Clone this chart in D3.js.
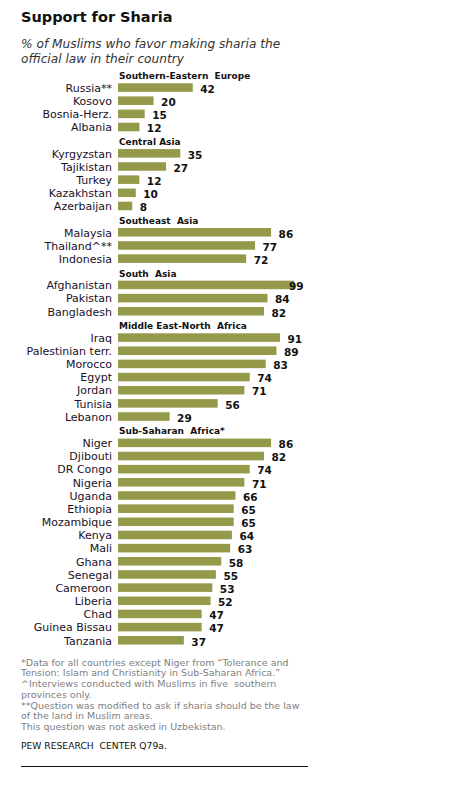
<!DOCTYPE html>
<html>
<head>
<meta charset="utf-8">
<script src="https://cdn.jsdelivr.net/npm/d3@7"></script>
<style>
  body { margin: 0; background: #fff; }
  svg text { font-family: "DejaVu Sans", Verdana, sans-serif; }
</style>
</head>
<body>
<svg id="chart" width="469" height="785"></svg>
<script>
// regions and their countries, top to bottom
var regions = ["Southern-Eastern  Europe", "Central Asia", "Southeast  Asia", "South  Asia",
               "Middle East-North  Africa", "Sub-Saharan  Africa*"];
var europe = ["Russia**", "Kosovo", "Bosnia-Herz.", "Albania"];
var europeVals = [42, 20, 15, 12];
var centralAsia = ["Kyrgyzstan", "Tajikistan", "Turkey", "Kazakhstan", "Azerbaijan"];
var centralAsiaVals = [35, 27, 12, 10, 8];
var southeastAsia = ["Malaysia", "Thailand^**", "Indonesia"];
var southeastAsiaVals = [86, 77, 72];
var southAsia = ["Afghanistan", "Pakistan", "Bangladesh"];
var southAsiaVals = [99, 84, 82];
var mena = ["Iraq", "Palestinian terr.", "Morocco", "Egypt", "Jordan", "Tunisia", "Lebanon"];
var menaVals = [91, 89, 83, 74, 71, 56, 29];
var africa = ["Niger", "Djibouti", "DR Congo", "Nigeria", "Uganda", "Ethiopia", "Mozambique",
              "Kenya", "Mali", "Ghana", "Senegal", "Cameroon", "Liberia", "Chad",
              "Guinea Bissau", "Tanzania"];
var africaVals = [86, 82, 74, 71, 66, 65, 65, 64, 63, 58, 55, 53, 52, 47, 47, 37];

var notes = [
  "*Data for all countries except Niger from \u201cTolerance and",
  "Tension: Islam and Christianity in Sub-Saharan Africa.\u201d",
  "^Interviews conducted with Muslims in five  southern",
  "provinces only.",
  "**Question was modified to ask if sharia should be the law",
  "of the land in Muslim areas.",
  "This question was not asked in Uzbekistan."
];

var BAR_COLOR = "#959a4a";
var LEFT = 118;

var groups = [
  [europe, europeVals], [centralAsia, centralAsiaVals], [southeastAsia, southeastAsiaVals],
  [southAsia, southAsiaVals], [mena, menaVals], [africa, africaVals]
];

// one slot per header and per country
var slots = [];
groups.forEach(function(g, i) {
  slots.push({ id: "h" + i, header: regions[i] });
  g[0].forEach(function(c, j) {
    slots.push({ id: "c" + i + "_" + j, name: c, value: g[1][j] });
  });
});

var svg = d3.select("#chart");

var step = 13.16;
var y = d3.scaleBand()
    .domain(slots.map(function(d) { return d.id; }))
    .range([70.1, 70.1 + step * (slots.length - 0.35)])
    .paddingInner(0.35)
    .paddingOuter(0)
    .align(0);

var x = d3.scaleLinear().domain([0, 100]).range([LEFT, LEFT + 178]);

// title
svg.append("text")
    .attr("x", 21).attr("y", 22)
    .style("font-size", "14.5px").style("font-weight", "bold").style("fill", "#111")
    .text("Support for Sharia");

var sub = svg.append("text")
    .style("font-size", "12.2px").style("font-style", "italic").style("fill", "#333");
sub.append("tspan").attr("x", 21).attr("y", 48).text("% of Muslims who favor making sharia the");
sub.append("tspan").attr("x", 21).attr("y", 63).text("official law in their country");

var headers = slots.filter(function(d) { return d.header; });
var rows = slots.filter(function(d) { return !d.header; });

svg.append("g").selectAll("text")
    .data(headers)
  .enter().append("text")
    .attr("x", LEFT + 1)
    .attr("y", function(d) { return y(d.id) + 9; })
    .style("font-size", "9px").style("font-weight", "bold").style("fill", "#111")
    .style("white-space", "pre")
    .text(function(d) { return d.header; });

var g_rows = svg.append("g");

g_rows.selectAll("rect")
    .data(rows)
  .enter().append("rect")
    .attr("x", x(0))
    .attr("y", function(d) { return y(d.id); })
    .attr("width", function(d) { return x(d.value) - x(0); })
    .attr("height", y.bandwidth())
    .style("fill", BAR_COLOR);

g_rows.selectAll("text.name")
    .data(rows)
  .enter().append("text")
    .attr("class", "name")
    .attr("x", LEFT - 6)
    .attr("y", function(d) { return y(d.id) + y.bandwidth(); })
    .attr("text-anchor", "end")
    .style("font-size", "11px").style("fill", "#1a1028")
    .text(function(d) { return d.name; });

g_rows.selectAll("text.val")
    .data(rows)
  .enter().append("text")
    .attr("class", "val")
    .attr("x", function(d) { return Math.min(x(d.value) + 7.5, 289); })
    .attr("y", function(d) { return y(d.id) + y.bandwidth() + 1; })
    .style("font-size", "10.5px").style("font-weight", "bold").style("fill", "#111")
    .text(function(d) { return d.value; });

// footnotes
svg.append("g").selectAll("text")
    .data(notes)
  .enter().append("text")
    .attr("x", 21)
    .attr("y", function(d, i) { return 665.7 + i * 10.7; })
    .style("font-size", "9.5px").style("fill", "#808080")
    .style("white-space", "pre")
    .text(function(d) { return d; });

svg.append("text")
    .attr("x", 21).attr("y", 749)
    .style("font-size", "9.2px").style("fill", "#111")
    .style("white-space", "pre")
    .text("PEW RESEARCH  CENTER Q79a.");

svg.append("line")
    .attr("x1", 21).attr("x2", 308)
    .attr("y1", 766.5).attr("y2", 766.5)
    .style("stroke", "#111").style("stroke-width", 1);
</script>
</body>
</html>
